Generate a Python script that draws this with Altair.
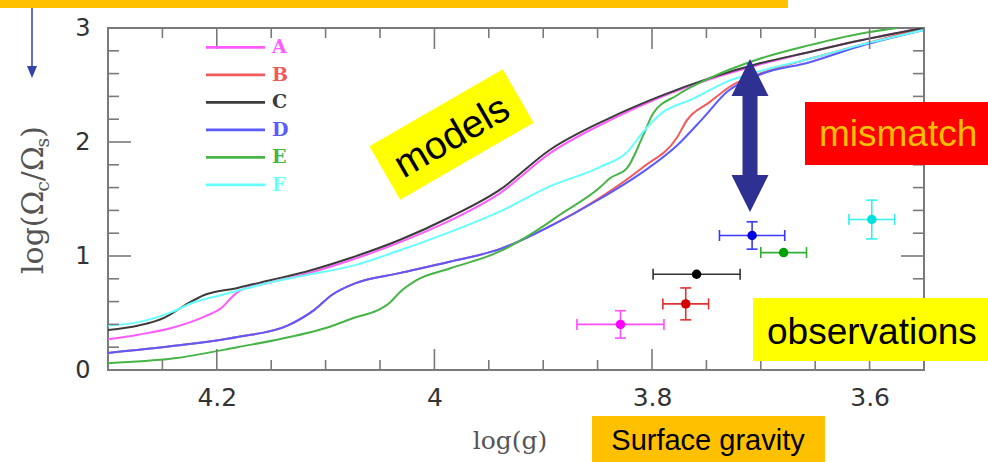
import altair as alt
import pandas as pd

# ---------------- data ----------------
MODELS = ["A", "B", "C", "D", "E", "F"]
LINE_COLORS = ["#ff5cff", "#f05a5a", "#3c3c3c", "#5a5aff", "#46b446", "#66ffff"]
POINT_COLORS = ["#ff00ff", "#d40000", "#000000", "#0000e0", "#00a000", "#00e0e0"]
ERR_COLORS = ["#ff4dff", "#e03030", "#333333", "#3a3aff", "#30b030", "#33f0f0"]

# model tracks: log(g) and log(Omega_c / Omega_s)
LOGG_A = [4.30, 4.272, 4.241, 4.211, 4.195, 4.186, 4.178, 4.150, 4.119, 4.078, 4.032, 3.986,
          3.940, 3.894, 3.839, 3.793, 3.747, 3.701, 3.655, 3.609, 3.551]
OMEGA_A = [0.27, 0.31, 0.37, 0.47, 0.55, 0.64, 0.70, 0.77, 0.84, 0.96, 1.12, 1.31,
           1.55, 1.90, 2.19, 2.39, 2.55, 2.68, 2.79, 2.89, 3.00]

LOGG_B = [4.30, 4.241, 4.181, 4.135, 4.110, 4.094, 4.073, 4.032, 3.986, 3.940, 3.894, 3.848,
          3.808, 3.777, 3.768, 3.747, 3.726, 3.701, 3.655, 3.609, 3.551]
OMEGA_B = [0.15, 0.21, 0.29, 0.39, 0.53, 0.66, 0.76, 0.85, 0.95, 1.06, 1.26, 1.51,
           1.78, 2.04, 2.19, 2.35, 2.50, 2.60, 2.73, 2.85, 3.00]

LOGG_C = [4.30, 4.272, 4.248, 4.229, 4.211, 4.181, 4.150, 4.119, 4.078, 4.032, 3.986, 3.940,
          3.894, 3.839, 3.793, 3.747, 3.701, 3.655, 3.609, 3.551]
OMEGA_C = [0.35, 0.39, 0.46, 0.57, 0.66, 0.72, 0.79, 0.86, 0.98, 1.14, 1.34, 1.58,
           1.93, 2.21, 2.40, 2.56, 2.69, 2.79, 2.89, 3.00]

LOGG_D = [4.30, 4.241, 4.181, 4.135, 4.110, 4.094, 4.073, 4.032, 3.986, 3.940, 3.894, 3.848,
          3.808, 3.777, 3.753, 3.731, 3.701, 3.655, 3.609, 3.551]
OMEGA_D = [0.15, 0.21, 0.29, 0.39, 0.53, 0.66, 0.76, 0.85, 0.95, 1.06, 1.26, 1.50,
           1.74, 1.97, 2.21, 2.44, 2.59, 2.70, 2.84, 2.98]

LOGG_E = [4.30, 4.241, 4.181, 4.119, 4.096, 4.073, 4.053, 4.041, 4.032, 4.016, 3.986, 3.940,
          3.894, 3.885, 3.848, 3.839, 3.823, 3.808, 3.799, 3.777, 3.747, 3.701, 3.655, 3.609, 3.575]
OMEGA_E = [0.06, 0.10, 0.20, 0.32, 0.38, 0.46, 0.52, 0.59, 0.68, 0.79, 0.89, 1.04,
           1.30, 1.36, 1.60, 1.68, 1.77, 2.06, 2.25, 2.41, 2.56, 2.73, 2.85, 2.95, 3.00]

LOGG_F = [4.30, 4.272, 4.241, 4.222, 4.195, 4.150, 4.119, 4.073, 4.032, 3.986, 3.940, 3.894,
          3.848, 3.823, 3.808, 3.793, 3.762, 3.731, 3.701, 3.655, 3.609, 3.551]
OMEGA_F = [0.39, 0.42, 0.51, 0.59, 0.66, 0.77, 0.83, 0.92, 1.05, 1.21, 1.39, 1.61,
           1.78, 1.91, 2.09, 2.24, 2.38, 2.53, 2.62, 2.73, 2.85, 2.98]

# observed stars (same order as MODELS colours)
OBS_LOGG = [3.829, 3.769, 3.759, 3.708, 3.679, 3.598]
OBS_LOGG_ERR = [0.040, 0.021, 0.040, 0.030, 0.021, 0.021]
OBS_OMEGA = [0.40, 0.58, 0.84, 1.18, 1.03, 1.32]
OBS_OMEGA_ERR = [0.12, 0.14, 0.0, 0.12, 0.0, 0.17]

# axis ticks
X_MAJOR = [4.2, 4.0, 3.8, 3.6]
X_MINOR = [4.25, 4.15, 4.1, 4.05, 3.95, 3.9, 3.85, 3.75, 3.7, 3.65]
Y_MAJOR = [1, 2]
Y_MINOR = [0.2, 0.4, 0.6, 0.8, 1.2, 1.4, 1.6, 1.8, 2.2, 2.4, 2.6, 2.8]
Y_LABELS = [0, 1, 2, 3]

# ---------------- layout ----------------
PAD_L, PAD_T, PAD_R, PAD_B = 108, 28, 64, 92
W, H = 988 - PAD_L - PAD_R, 462 - PAD_T - PAD_B
FRAME = "#7a7a7a"
SANS = "Liberation Sans"

xs = alt.Scale(domain=[3.55, 4.3], reverse=True, nice=False, zero=False)
ys = alt.Scale(domain=[0, 3], nice=False, zero=False)

# the same axis definition is given to every layer so they merge into one
x_axis = alt.Axis(values=X_MAJOR, format=".2~f", ticks=False, domain=False, grid=False,
                  title=None, labelFont="DejaVu Sans", labelFontSize=25, labelColor="#333",
                  labelPadding=15, labelFlush=False, labelOverlap=False)
y_axis = alt.Axis(values=Y_LABELS, ticks=False, domain=False, grid=False, title=None,
                  labelFont="DejaVu Sans", labelFontSize=24, labelColor="#333",
                  labelPadding=18, labelFlush=False, labelOverlap=False)


def X(field):
    return alt.X(field, scale=xs, axis=x_axis)


def Y(field):
    return alt.Y(field, scale=ys, axis=y_axis)


one = pd.DataFrame({"k": [0]})


def px(x):
    return x - PAD_L


def py(y):
    return y - PAD_T


def text_at(txt, x, y, size, color, font=SANS, angle=0, align="left",
            baseline="alphabetic", weight="normal"):
    return alt.Chart(one).mark_text(
        text=txt, font=font, fontSize=size, color=color, angle=angle,
        align=align, baseline=baseline, fontWeight=weight
    ).encode(x=alt.value(px(x)), y=alt.value(py(y)))


def box(x0, x1, y0, y1, color):
    return alt.Chart(one).mark_rect(color=color, opacity=1).encode(
        x=alt.value(px(x0)), x2=alt.value(px(x1)),
        y=alt.value(py(y0)), y2=alt.value(py(y1)))


def symbol(path, x, y, size, color, angle=0):
    return alt.Chart(one).mark_point(
        shape=path, size=size, filled=True, color=color, opacity=1,
        strokeWidth=0, angle=angle
    ).encode(x=alt.value(px(x)), y=alt.value(py(y)))


# ---------------- model curves ----------------
rows = []
tracks = [(LOGG_A, OMEGA_A), (LOGG_B, OMEGA_B), (LOGG_C, OMEGA_C),
          (LOGG_D, OMEGA_D), (LOGG_E, OMEGA_E), (LOGG_F, OMEGA_F)]
for m, col, (gx, oy) in zip(MODELS, LINE_COLORS, tracks):
    for i, (g, o) in enumerate(zip(gx, oy)):
        rows.append({"model": m, "logg": g, "omega": o, "idx": i, "lcolor": col})
curves = pd.DataFrame(rows)

lines = alt.Chart(curves).mark_line(strokeWidth=2, clip=True, interpolate="monotone").encode(
    x=X("logg:Q"),
    y=Y("omega:Q"),
    color=alt.Color("lcolor:N", scale=None),
    detail="model:N",
    order="idx:Q",
)

# ---------------- inward ticks on all four sides ----------------
tick_layers = []
for vals, length in [(X_MAJOR, 21), (X_MINOR, 10)]:
    d = pd.DataFrame({"v": vals})
    for y0, y1 in [(H, H - length), (0, length)]:
        tick_layers.append(alt.Chart(d).mark_rule(color=FRAME, strokeWidth=1.6).encode(
            x=X("v:Q"), y=alt.value(y0), y2=alt.value(y1)))
for vals, length in [(Y_MAJOR, 23), (Y_MINOR, 11)]:
    d = pd.DataFrame({"v": vals})
    for x0, x1 in [(0, length), (W, W - length)]:
        tick_layers.append(alt.Chart(d).mark_rule(color=FRAME, strokeWidth=1.6).encode(
            y=Y("v:Q"), x=alt.value(x0), x2=alt.value(x1)))

# ---------------- observations with error bars ----------------
obs = pd.DataFrame({
    "model": MODELS, "logg": OBS_LOGG, "dlogg": OBS_LOGG_ERR,
    "omega": OBS_OMEGA, "domega": OBS_OMEGA_ERR,
    "pcolor": POINT_COLORS, "ecolor": ERR_COLORS,
})
obs["x_lo"] = obs["logg"] - obs["dlogg"]
obs["x_hi"] = obs["logg"] + obs["dlogg"]
obs["y_lo"] = obs["omega"] - obs["domega"]
obs["y_hi"] = obs["omega"] + obs["domega"]
obs_y = obs[obs["domega"] > 0]

ecol = alt.Color("ecolor:N", scale=None)
xerr = alt.Chart(obs).mark_rule(strokeWidth=1.6).encode(
    x=X("x_lo:Q"), x2="x_hi:Q", y=Y("omega:Q"), color=ecol)
yerr = alt.Chart(obs_y).mark_rule(strokeWidth=1.6).encode(
    x=X("logg:Q"), y=Y("y_lo:Q"), y2="y_hi:Q", color=ecol)
xcaps = alt.Chart(obs).transform_fold(["x_lo", "x_hi"], as_=["end", "xe"]).mark_tick(
    orient="vertical", size=11, thickness=1.6, opacity=1).encode(
    x=X("xe:Q"), y=Y("omega:Q"), color=ecol)
ycaps = alt.Chart(obs_y).transform_fold(["y_lo", "y_hi"], as_=["end", "ye"]).mark_tick(
    orient="horizontal", size=11, thickness=1.6, opacity=1).encode(
    x=X("logg:Q"), y=Y("ye:Q"), color=ecol)
points = alt.Chart(obs).mark_circle(size=90, opacity=1).encode(
    x=X("logg:Q"), y=Y("omega:Q"), color=alt.Color("pcolor:N", scale=None))

# ---------------- legend ----------------
legend_layers = []
for i, (m, col) in enumerate(zip(MODELS, LINE_COLORS)):
    yy = 47.3 + i * 27.5
    legend_layers.append(alt.Chart(one).mark_rule(color=col, strokeWidth=2.8).encode(
        x=alt.value(px(206)), x2=alt.value(px(265)), y=alt.value(py(yy))))
    legend_layers.append(text_at(m, 272, yy, 19, col, font="DejaVu Serif",
                                 baseline="middle", weight="bold"))

# ---------------- axis titles ----------------
ADV = {"l": 0.320, "o": 0.602, "g": 0.640, "(": 0.390, ")": 0.390, "Ω": 0.787,
       "c": 0.561, "/": 0.337, "s": 0.516}
Y_TITLE_PARTS = [("log(Ω", False), ("c", True), ("/Ω", False), ("s", True), (")", False)]
MAIN, SUB = 30, 19
widths = [sum(ADV[ch] for ch in t) * (SUB if sub else MAIN) for t, sub in Y_TITLE_PARTS]
ypos = 200 + sum(widths) / 2
title_layers = []
for (t, sub), w in zip(Y_TITLE_PARTS, widths):
    title_layers.append(text_at(t, 49 if sub else 43, ypos, SUB if sub else MAIN, "#555",
                                font="DejaVu Serif", angle=270))
    ypos -= w
title_layers.append(text_at("log(g)", 510, 449, 25, "#555", font="DejaVu Serif",
                            align="center"))

# ---------------- annotations ----------------
notes = [
    box(0, 788, 0, 8, "#ffc000"),
    # thin arrow at the top left
    alt.Chart(one).mark_rule(color="#3342a6", strokeWidth=1.5).encode(
        x=alt.value(px(32)), y=alt.value(py(8)), y2=alt.value(py(68))),
    symbol("M-1,-1.2L1,-1.2L0,1.2Z", 32, 72, 100, "#3342a6"),
    # "models" tag
    symbol("M-1,-0.4L1,-0.4L1,0.4L-1,0.4Z", 451.5, 134.5, 154 ** 2, "#ffff00", angle=330),
    text_at("models", 452, 137, 39, "#000", angle=330, align="center", baseline="middle"),
    # mismatch double arrow
    alt.Chart(one).mark_rule(color="#2e3192", strokeWidth=15, strokeCap="butt").encode(
        x=alt.value(px(750)), y=alt.value(py(94)), y2=alt.value(py(178))),
    symbol("M-1,1L1,1L0,-1Z", 750, 77.5, 37 ** 2, "#2e3192"),
    symbol("M-1,-1L1,-1L0,1Z", 750, 193.5, 37 ** 2, "#2e3192"),
    box(805, 988, 102, 165, "#ff0000"),
    text_at("mismatch", 819, 146, 37, "#ffc000"),
    box(753, 988, 298, 361, "#ffff00"),
    text_at("observations", 767, 344, 37, "#000"),
    box(592, 825, 416, 462, "#ffc000"),
    text_at("Surface gravity", 708, 450, 29, "#000", align="center"),
]

chart = alt.layer(
    lines, *tick_layers, xerr, yerr, xcaps, ycaps, points,
    *legend_layers, *title_layers, *notes
).properties(
    width=W, height=H,
    padding={"left": PAD_L, "top": PAD_T, "right": PAD_R, "bottom": PAD_B},
    autosize=alt.AutoSizeParams(type="none"),
    background="white",
).configure_view(stroke=FRAME, strokeWidth=2)

chart.save("out.html", embed_options={"renderer": "svg", "actions": False})
